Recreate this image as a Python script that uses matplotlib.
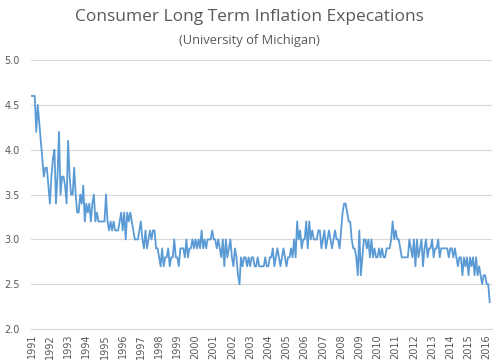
import matplotlib
matplotlib.use("Agg")
import matplotlib.pyplot as plt
import numpy as np

years = [str(y) for y in range(1991, 2017)]

v1991 = [4.6, 4.6, 4.6, 4.2, 4.5, 4.3, 4.1, 3.9, 3.7, 3.8, 3.8, 3.6]
v1992 = [3.4, 3.7, 3.9, 4.0, 3.4, 3.7, 4.2, 3.5, 3.7, 3.7, 3.6, 3.4]
v1993 = [4.1, 3.7, 3.5, 3.5, 3.8, 3.5, 3.3, 3.3, 3.5, 3.4, 3.6, 3.2]
v1994 = [3.4, 3.3, 3.4, 3.2, 3.4, 3.5, 3.2, 3.3, 3.2, 3.2, 3.2, 3.2]
v1995 = [3.2, 3.5, 3.2, 3.1, 3.2, 3.1, 3.2, 3.1, 3.1, 3.1, 3.2, 3.3]
v1996 = [3.1, 3.3, 3.0, 3.3, 3.2, 3.3, 3.2, 3.1, 3.0, 3.0, 3.0, 3.1]
v1997 = [3.2, 3.0, 2.9, 3.1, 2.9, 3.0, 3.1, 3.0, 3.1, 3.1, 2.9, 2.9]
v1998 = [2.8, 2.7, 2.9, 2.7, 2.8, 2.8, 2.9, 2.7, 2.8, 2.8, 3.0, 2.8]
v1999 = [2.8, 2.7, 2.9, 2.9, 2.9, 2.8, 3.0, 2.8, 2.9, 2.9, 3.0, 2.9]
v2000 = [3.0, 2.9, 3.0, 2.9, 3.1, 2.9, 3.0, 2.9, 3.0, 3.0, 3.0, 3.1]
v2001 = [3.0, 3.0, 2.9, 3.0, 2.9, 2.8, 3.0, 2.7, 3.0, 2.8, 2.9, 3.0]
v2002 = [2.8, 2.7, 2.9, 2.8, 2.6, 2.5, 2.8, 2.7, 2.8, 2.8, 2.7, 2.8]
v2003 = [2.7, 2.8, 2.8, 2.7, 2.7, 2.8, 2.7, 2.7, 2.7, 2.7, 2.8, 2.7]
v2004 = [2.7, 2.8, 2.8, 2.9, 2.7, 2.8, 2.9, 2.8, 2.7, 2.8, 2.9, 2.8]
v2005 = [2.7, 2.8, 2.8, 2.9, 2.8, 3.0, 2.8, 3.2, 3.0, 3.1, 2.9, 3.0]
v2006 = [3.0, 3.2, 2.9, 3.2, 3.0, 3.1, 3.0, 3.0, 3.0, 3.1, 3.1, 2.9]
v2007 = [3.0, 3.1, 2.9, 3.0, 3.1, 3.0, 2.9, 3.0, 3.1, 3.0, 3.0, 2.9]
v2008 = [3.1, 3.3, 3.4, 3.4, 3.3, 3.2, 3.2, 3.0, 2.9, 2.9, 2.8, 2.6]
v2009 = [3.1, 2.6, 2.8, 3.0, 3.0, 2.9, 3.0, 2.8, 3.0, 2.8, 2.9, 2.8]
v2010 = [2.8, 2.9, 2.8, 2.9, 2.8, 2.8, 2.9, 2.9, 2.9, 3.0, 3.2, 3.0]
v2011 = [3.1, 3.0, 3.0, 2.9, 2.8, 2.8, 2.8, 2.8, 2.8, 3.0, 2.9, 2.8]
v2012 = [3.0, 2.7, 3.0, 2.8, 2.9, 3.0, 2.7, 2.9, 3.0, 2.8, 2.9, 2.9]
v2013 = [3.0, 2.8, 2.9, 2.9, 3.0, 2.8, 2.9, 2.9, 2.9, 2.9, 2.9, 2.8]
v2014 = [2.9, 2.9, 2.8, 2.9, 2.8, 2.7, 2.8, 2.8, 2.6, 2.8, 2.7, 2.8]
v2015 = [2.6, 2.8, 2.7, 2.8, 2.6, 2.8, 2.6, 2.7, 2.6, 2.5, 2.6, 2.6]
v2016 = [2.5, 2.5, 2.3]

values = (v1991 + v1992 + v1993 + v1994 + v1995 + v1996 + v1997 + v1998 +
          v1999 + v2000 + v2001 + v2002 + v2003 + v2004 + v2005 + v2006 +
          v2007 + v2008 + v2009 + v2010 + v2011 + v2012 + v2013 + v2014 +
          v2015 + v2016)

fig = plt.figure(figsize=(4.99, 3.62), dpi=100)
ax = fig.add_axes([0.062, 0.091, 0.924, 0.743])

x = np.arange(len(values))
ax.plot(x, values, color="#5B9BD5", linewidth=1.3)

ax.set_ylim(2.0, 5.0)
ax.set_yticks(np.arange(2.0, 5.01, 0.5))
ax.set_yticklabels([f"{v:.1f}" for v in np.arange(2.0, 5.01, 0.5)])
ax.set_xlim(-0.5, len(values) + 0.5)
ax.set_xticks(np.arange(len(years)) * 12)
ax.set_xticklabels(years, rotation=90)

ax.grid(axis="y", color="#D9D9D9", linewidth=0.8)
ax.set_axisbelow(True)
for s in ["top", "right", "left"]:
    ax.spines[s].set_visible(False)
ax.spines["bottom"].set_color("#D9D9D9")
ax.tick_params(axis="both", length=0, colors="#595959", labelsize=7)
ax.tick_params(axis="y", pad=8)

fig.text(0.5, 0.952, "Consumer Long Term Inflation Expecations", ha="center", va="center",
         fontsize=12.5, color="#595959", family="Open Sans")
fig.text(0.5, 0.888, "(University of Michigan)", ha="center", va="center",
         fontsize=9.3, color="#595959", family="Open Sans")

fig.savefig("out.png", dpi=100)
